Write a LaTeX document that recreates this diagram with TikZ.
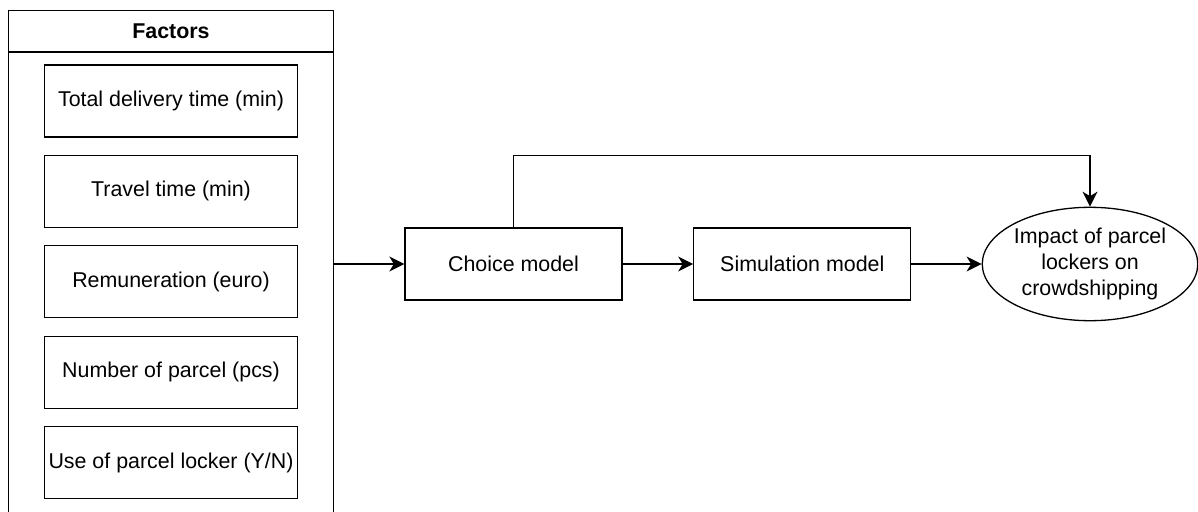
\documentclass[tikz,border=0pt]{standalone}
\usepackage{fontspec}
\setmainfont{Liberation Sans}
\usetikzlibrary{shapes.geometric,arrows.meta}

\tikzset{
  base/.style={font=\fontsize{21.4}{25.6}\selectfont, line width=1.3pt},
  factorbox/.style={base, draw, rectangle, minimum width=253pt, minimum height=72pt, inner sep=0pt},
  modelbox/.style={base, draw, rectangle, minimum width=217pt, minimum height=72pt},
  outcome/.style={base, draw, ellipse, minimum width=215.5pt, minimum height=113.4pt, inner sep=0pt, align=center},
  arr/.style={line width=1.3pt, -{Stealth[length=15pt,width=15pt,inset=4.5pt]}}
}

\begin{document}
\begin{tikzpicture}[x=1pt, y=-1pt]
  \useasboundingbox (0,0) rectangle (1198,511);
  \clip (0,0) rectangle (1198,511);

  % container of the factors, open below the page edge
  \node[base, draw, rectangle, minimum width=324.6pt, minimum height=529.3pt, inner sep=0pt] (factors) at (171,275.35) {};
  \node[base, draw, rectangle, minimum width=324.6pt, minimum height=41.3pt, inner sep=0pt] (header) at (171,31.35) {\bfseries Factors};

  % the individual factors
  \node[factorbox] (f1) at (171,101) {Total delivery time (min)};
  \node[factorbox] (f2) at (171,191.4) {Travel time (min)};
  \node[factorbox] (f3) at (171,281.8) {Remuneration (euro)};
  \node[factorbox] (f4) at (171,372.3) {Number of parcel (pcs)};
  \node[factorbox] (f5) at (171,462.8) {Use of parcel locker (Y/N)};

  % model chain
  \node[modelbox] (choice) at (513.5,264) {Choice model};
  \node[modelbox] (sim) at (802.3,264) {Simulation model};
  \node[outcome] (impact) at (1090,264) {Impact of parcel\\lockers on\\crowdshipping};

  \coordinate (turn) at (1090,155.3);

  % connectors
  \draw[arr] (factors.east |- choice.west) -- (choice.west);
  \draw[arr] (choice.east) -- (sim.west);
  \draw[arr] (sim.east) -- (impact.west);
  \draw[arr] (choice.north) |- (turn) -- (impact.north);
\end{tikzpicture}
\end{document}
